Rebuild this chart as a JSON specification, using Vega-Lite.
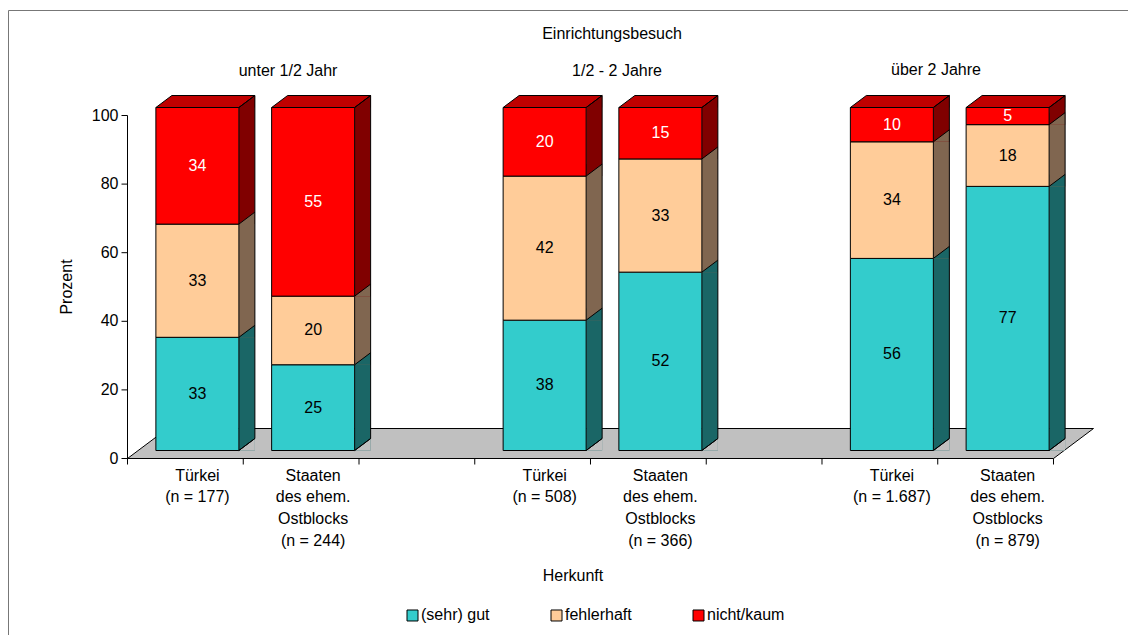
{
  "$schema": "https://vega.github.io/schema/vega-lite/v6.json",
  "width": 1135,
  "height": 628,
  "autosize": "none",
  "padding": {"left": 8, "top": 10, "right": 0, "bottom": 0},
  "background": "white",
  "config": {
    "view": {"stroke": "#777777", "strokeWidth": 1},
    "font": "Liberation Sans",
    "axisX": {"disable": true},
    "axisY": {"disable": true}
  },
  "datasets": {
    "bars": [
      {"slot": "Türkei|(n = 177)", "cat": "(sehr) gut", "v": 33},
      {"slot": "Türkei|(n = 177)", "cat": "fehlerhaft", "v": 33},
      {"slot": "Türkei|(n = 177)", "cat": "nicht/kaum", "v": 34},
      {"slot": "Staaten|des ehem.|Ostblocks|(n = 244)", "cat": "(sehr) gut", "v": 25},
      {"slot": "Staaten|des ehem.|Ostblocks|(n = 244)", "cat": "fehlerhaft", "v": 20},
      {"slot": "Staaten|des ehem.|Ostblocks|(n = 244)", "cat": "nicht/kaum", "v": 55},
      {"slot": "Türkei|(n = 508)", "cat": "(sehr) gut", "v": 38},
      {"slot": "Türkei|(n = 508)", "cat": "fehlerhaft", "v": 42},
      {"slot": "Türkei|(n = 508)", "cat": "nicht/kaum", "v": 20},
      {"slot": "Staaten|des ehem.|Ostblocks|(n = 366)", "cat": "(sehr) gut", "v": 52},
      {"slot": "Staaten|des ehem.|Ostblocks|(n = 366)", "cat": "fehlerhaft", "v": 33},
      {"slot": "Staaten|des ehem.|Ostblocks|(n = 366)", "cat": "nicht/kaum", "v": 15},
      {"slot": "Türkei|(n = 1.687)", "cat": "(sehr) gut", "v": 56},
      {"slot": "Türkei|(n = 1.687)", "cat": "fehlerhaft", "v": 34},
      {"slot": "Türkei|(n = 1.687)", "cat": "nicht/kaum", "v": 10},
      {"slot": "Staaten|des ehem.|Ostblocks|(n = 879)", "cat": "(sehr) gut", "v": 77},
      {"slot": "Staaten|des ehem.|Ostblocks|(n = 879)", "cat": "fehlerhaft", "v": 18},
      {"slot": "Staaten|des ehem.|Ostblocks|(n = 879)", "cat": "nicht/kaum", "v": 5}
    ],
    "slots": [
      {"slot": "Türkei|(n = 177)"},
      {"slot": "Staaten|des ehem.|Ostblocks|(n = 244)"},
      {"slot": "gap1"},
      {"slot": "Türkei|(n = 508)"},
      {"slot": "Staaten|des ehem.|Ostblocks|(n = 366)"},
      {"slot": "gap2"},
      {"slot": "Türkei|(n = 1.687)"},
      {"slot": "Staaten|des ehem.|Ostblocks|(n = 879)"}
    ],
    "yticks": [{"t": 0}, {"t": 20}, {"t": 40}, {"t": 60}, {"t": 80}, {"t": 100}]
  },
  "data": {"name": "bars"},
  "layer": [
    {
      "data": {"values": [{}]},
      "mark": {"type": "point", "shape": "M0,0 L926,0 L966,-30 L40,-30 Z", "size": 4, "filled": true, "fill": "#C0C0C0", "stroke": "black", "strokeWidth": 1, "opacity": 1},
      "encoding": {
        "x": {"datum": "Türkei|(n = 177)", "type": "nominal", "bandPosition": 0, "axis": null,
              "scale": {"type": "band", "domain": ["Türkei|(n = 177)", "Staaten|des ehem.|Ostblocks|(n = 244)", "gap1", "Türkei|(n = 508)", "Staaten|des ehem.|Ostblocks|(n = 366)", "gap2", "Türkei|(n = 1.687)", "Staaten|des ehem.|Ostblocks|(n = 879)"], "paddingInner": 0, "paddingOuter": 0.90281, "align": 0.57177}},
        "y": {"datum": 0, "type": "quantitative", "axis": null,
              "scale": {"domain": [-52.332, 130.758], "nice": false, "zero": false}}
      }
    },
    {
      "data": {"values": [{}]},
      "mark": {"type": "rule", "color": "black", "strokeWidth": 1},
      "encoding": {
        "x": {"datum": "Türkei|(n = 177)", "type": "nominal", "bandPosition": 0, "axis": null},
        "y": {"datum": 0, "type": "quantitative", "axis": null},
        "y2": {"datum": 100}
      }
    },
    {
      "data": {"name": "yticks"},
      "mark": {"type": "point", "shape": "M-6,0 L0,0", "size": 4, "filled": false, "color": "black", "strokeWidth": 1, "opacity": 1},
      "encoding": {
        "x": {"datum": "Türkei|(n = 177)", "type": "nominal", "bandPosition": 0, "axis": null},
        "y": {"field": "t", "type": "quantitative", "axis": null}
      }
    },
    {
      "data": {"name": "yticks"},
      "mark": {"type": "text", "fontSize": 16, "color": "black", "align": "right", "baseline": "middle", "dx": -9},
      "encoding": {
        "x": {"datum": "Türkei|(n = 177)", "type": "nominal", "bandPosition": 0, "axis": null},
        "y": {"field": "t", "type": "quantitative", "axis": null},
        "text": {"field": "t", "type": "quantitative"}
      }
    },
    {
      "data": {"values": [{}]},
      "mark": {"type": "text", "text": "Prozent", "fontSize": 16, "color": "black", "angle": 270, "align": "center", "baseline": "alphabetic", "xOffset": -56},
      "encoding": {
        "x": {"datum": "Türkei|(n = 177)", "type": "nominal", "bandPosition": 0, "axis": null},
        "y": {"datum": 50, "type": "quantitative", "axis": null}
      }
    },
    {
      "data": {"name": "slots"},
      "mark": {"type": "rule", "color": "black", "strokeWidth": 1},
      "encoding": {
        "x": {"field": "slot", "type": "nominal", "bandPosition": 0, "axis": null},
        "y": {"datum": 0, "type": "quantitative", "axis": null},
        "y2": {"datum": -1.75}
      }
    },
    {
      "data": {"values": [{}]},
      "mark": {"type": "rule", "color": "black", "strokeWidth": 1},
      "encoding": {
        "x": {"datum": "Staaten|des ehem.|Ostblocks|(n = 879)", "type": "nominal", "bandPosition": 1, "axis": null},
        "y": {"datum": 0, "type": "quantitative", "axis": null},
        "y2": {"datum": -1.75}
      }
    },
    {
      "data": {"name": "slots"},
      "transform": [{"filter": "indexof(datum.slot, 'gap') < 0"}],
      "mark": {"type": "text", "fontSize": 16, "color": "black", "lineBreak": "|", "lineHeight": 21.7, "align": "center", "baseline": "top", "dx": 12, "dy": 9},
      "encoding": {
        "x": {"field": "slot", "type": "nominal", "axis": null},
        "y": {"datum": 0, "type": "quantitative", "axis": null},
        "text": {"field": "slot", "type": "nominal"}
      }
    },
    {
      "transform": [
        {"stack": "v", "groupby": ["slot"], "sort": [{"field": "cat", "order": "ascending"}], "as": ["y0", "y1"]},
        {"calculate": "(datum.y0 + datum.y1) / 2", "as": "ymid"}
      ],
      "layer": [
        {
          "mark": {"type": "bar", "width": 16, "xOffset": 61.5, "yOffset": -20, "y2Offset": -8, "opacity": 1, "strokeWidth": 0},
          "encoding": {
            "x": {"field": "slot", "type": "nominal", "axis": null},
            "y": {"field": "y1", "type": "quantitative", "axis": null},
            "y2": {"field": "y0"},
            "fill": {"field": "cat", "type": "nominal", "legend": null, "scale": {"domain": ["(sehr) gut", "fehlerhaft", "nicht/kaum"], "range": ["#1A6666", "#806650", "#800000"]}}
          }
        },
        {
          "mark": {"type": "point", "shape": "M41.5,0 L57.5,0 L57.5,-12 Z", "size": 4, "filled": true, "xOffset": 12, "yOffset": -8, "opacity": 1, "strokeWidth": 0},
          "encoding": {
            "x": {"field": "slot", "type": "nominal", "axis": null},
            "y": {"field": "y1", "type": "quantitative", "axis": null},
            "fill": {"field": "cat", "type": "nominal", "legend": null}
          }
        },
        {
          "transform": [{"filter": "datum.cat == '(sehr) gut'"}],
          "mark": {"type": "point", "shape": "M41.5,0 L57.5,0 L57.5,-12 Z", "size": 4, "filled": true, "fill": "#C0C0C0", "xOffset": 12, "yOffset": -8, "opacity": 1, "strokeWidth": 0},
          "encoding": {
            "x": {"field": "slot", "type": "nominal", "axis": null},
            "y": {"field": "y0", "type": "quantitative", "axis": null}
          }
        },
        {
          "transform": [{"filter": "datum.cat == 'nicht/kaum'"}],
          "mark": {"type": "point", "shape": "M-41.5,0 L41.5,0 L57.5,-12 L-25.5,-12 Z", "size": 4, "filled": true, "fill": "#C00000", "stroke": "black", "strokeWidth": 1, "xOffset": 12, "yOffset": -8, "opacity": 1},
          "encoding": {
            "x": {"field": "slot", "type": "nominal", "axis": null},
            "y": {"field": "y1", "type": "quantitative", "axis": null}
          }
        },
        {
          "transform": [{"filter": "datum.cat == 'nicht/kaum'"}],
          "mark": {"type": "point", "shape": "M41.5,0 L57.5,-12 L57.5,331 L41.5,343", "size": 4, "filled": false, "color": "black", "strokeWidth": 1, "xOffset": 12, "yOffset": -8, "opacity": 1},
          "encoding": {
            "x": {"field": "slot", "type": "nominal", "axis": null},
            "y": {"field": "y1", "type": "quantitative", "axis": null}
          }
        },
        {
          "mark": {"type": "point", "shape": "M41.5,0 L57.5,-12", "size": 4, "filled": false, "color": "black", "strokeWidth": 1, "xOffset": 12, "yOffset": -8, "opacity": 1},
          "encoding": {
            "x": {"field": "slot", "type": "nominal", "axis": null},
            "y": {"field": "y0", "type": "quantitative", "axis": null}
          }
        },
        {
          "mark": {"type": "bar", "width": 83, "xOffset": 12, "yOffset": -8, "y2Offset": -8, "stroke": "black", "strokeWidth": 1, "opacity": 1},
          "encoding": {
            "x": {"field": "slot", "type": "nominal", "axis": null},
            "y": {"field": "y1", "type": "quantitative", "axis": null},
            "y2": {"field": "y0"},
            "color": {"field": "cat", "type": "nominal", "legend": null,
                      "scale": {"domain": ["(sehr) gut", "fehlerhaft", "nicht/kaum"], "range": ["#33CCCC", "#FFCC99", "#FF0000"]}}
          }
        },
        {
          "mark": {"type": "text", "fontSize": 16, "dx": 12, "dy": -8, "align": "center", "baseline": "middle"},
          "encoding": {
            "x": {"field": "slot", "type": "nominal", "axis": null},
            "y": {"field": "ymid", "type": "quantitative", "axis": null},
            "text": {"field": "v", "type": "quantitative"},
            "color": {"condition": {"test": "datum.cat == 'nicht/kaum'", "value": "white"}, "value": "black"}
          }
        }
      ]
    },
    {
      "data": {"values": [{"cat": "(sehr) gut"}]},
      "layer": [
        {"mark": {"type": "point", "shape": "square", "size": 121, "filled": true, "stroke": "black", "strokeWidth": 1, "opacity": 1, "xOffset": 285},
         "encoding": {"x": {"datum": "Türkei|(n = 177)", "type": "nominal", "bandPosition": 0, "axis": null}, "y": {"datum": -45.77, "type": "quantitative", "axis": null}, "color": {"field": "cat", "type": "nominal", "legend": null}}},
        {"mark": {"type": "text", "fontSize": 16, "color": "black", "align": "left", "baseline": "middle", "dx": 293.5},
         "encoding": {"x": {"datum": "Türkei|(n = 177)", "type": "nominal", "bandPosition": 0, "axis": null}, "y": {"datum": -45.77, "type": "quantitative", "axis": null}, "text": {"field": "cat", "type": "nominal"}}}
      ]
    },
    {
      "data": {"values": [{"cat": "fehlerhaft"}]},
      "layer": [
        {"mark": {"type": "point", "shape": "square", "size": 121, "filled": true, "stroke": "black", "strokeWidth": 1, "opacity": 1, "xOffset": 429},
         "encoding": {"x": {"datum": "Türkei|(n = 177)", "type": "nominal", "bandPosition": 0, "axis": null}, "y": {"datum": -45.77, "type": "quantitative", "axis": null}, "color": {"field": "cat", "type": "nominal", "legend": null}}},
        {"mark": {"type": "text", "fontSize": 16, "color": "black", "align": "left", "baseline": "middle", "dx": 437.5},
         "encoding": {"x": {"datum": "Türkei|(n = 177)", "type": "nominal", "bandPosition": 0, "axis": null}, "y": {"datum": -45.77, "type": "quantitative", "axis": null}, "text": {"field": "cat", "type": "nominal"}}}
      ]
    },
    {
      "data": {"values": [{"cat": "nicht/kaum"}]},
      "layer": [
        {"mark": {"type": "point", "shape": "square", "size": 121, "filled": true, "stroke": "black", "strokeWidth": 1, "opacity": 1, "xOffset": 571},
         "encoding": {"x": {"datum": "Türkei|(n = 177)", "type": "nominal", "bandPosition": 0, "axis": null}, "y": {"datum": -45.77, "type": "quantitative", "axis": null}, "color": {"field": "cat", "type": "nominal", "legend": null}}},
        {"mark": {"type": "text", "fontSize": 16, "color": "black", "align": "left", "baseline": "middle", "dx": 579.5},
         "encoding": {"x": {"datum": "Türkei|(n = 177)", "type": "nominal", "bandPosition": 0, "axis": null}, "y": {"datum": -45.77, "type": "quantitative", "axis": null}, "text": {"field": "cat", "type": "nominal"}}}
      ]
    },
    {
      "data": {"values": [{}]},
      "mark": {"type": "text", "text": "Einrichtungsbesuch", "fontSize": 16, "color": "black", "dx": 21.5, "align": "center", "baseline": "middle"},
      "encoding": {
        "x": {"datum": "Staaten|des ehem.|Ostblocks|(n = 366)", "type": "nominal", "bandPosition": 0, "axis": null},
        "y": {"datum": 123.76, "type": "quantitative", "axis": null}
      }
    },
    {
      "data": {"values": [{}]},
      "mark": {"type": "text", "text": "unter 1/2 Jahr", "fontSize": 16, "color": "black", "dx": 44.75, "align": "center", "baseline": "middle"},
      "encoding": {
        "x": {"datum": "Staaten|des ehem.|Ostblocks|(n = 244)", "type": "nominal", "bandPosition": 0, "axis": null},
        "y": {"datum": 112.83, "type": "quantitative", "axis": null}
      }
    },
    {
      "data": {"values": [{}]},
      "mark": {"type": "text", "text": "1/2 - 2 Jahre", "fontSize": 16, "color": "black", "dx": 26.5, "align": "center", "baseline": "middle"},
      "encoding": {
        "x": {"datum": "Staaten|des ehem.|Ostblocks|(n = 366)", "type": "nominal", "bandPosition": 0, "axis": null},
        "y": {"datum": 112.97, "type": "quantitative", "axis": null}
      }
    },
    {
      "data": {"values": [{}]},
      "mark": {"type": "text", "text": "über 2 Jahre", "fontSize": 16, "color": "black", "dx": -1.75, "align": "center", "baseline": "middle"},
      "encoding": {
        "x": {"datum": "Staaten|des ehem.|Ostblocks|(n = 879)", "type": "nominal", "bandPosition": 0, "axis": null},
        "y": {"datum": 113.27, "type": "quantitative", "axis": null}
      }
    },
    {
      "data": {"values": [{}]},
      "mark": {"type": "text", "text": "Herkunft", "fontSize": 16, "color": "black", "dx": -17.5, "align": "center", "baseline": "alphabetic"},
      "encoding": {
        "x": {"datum": "Staaten|des ehem.|Ostblocks|(n = 366)", "type": "nominal", "bandPosition": 0, "axis": null},
        "y": {"datum": -35.71, "type": "quantitative", "axis": null}
      }
    }
  ]
}
